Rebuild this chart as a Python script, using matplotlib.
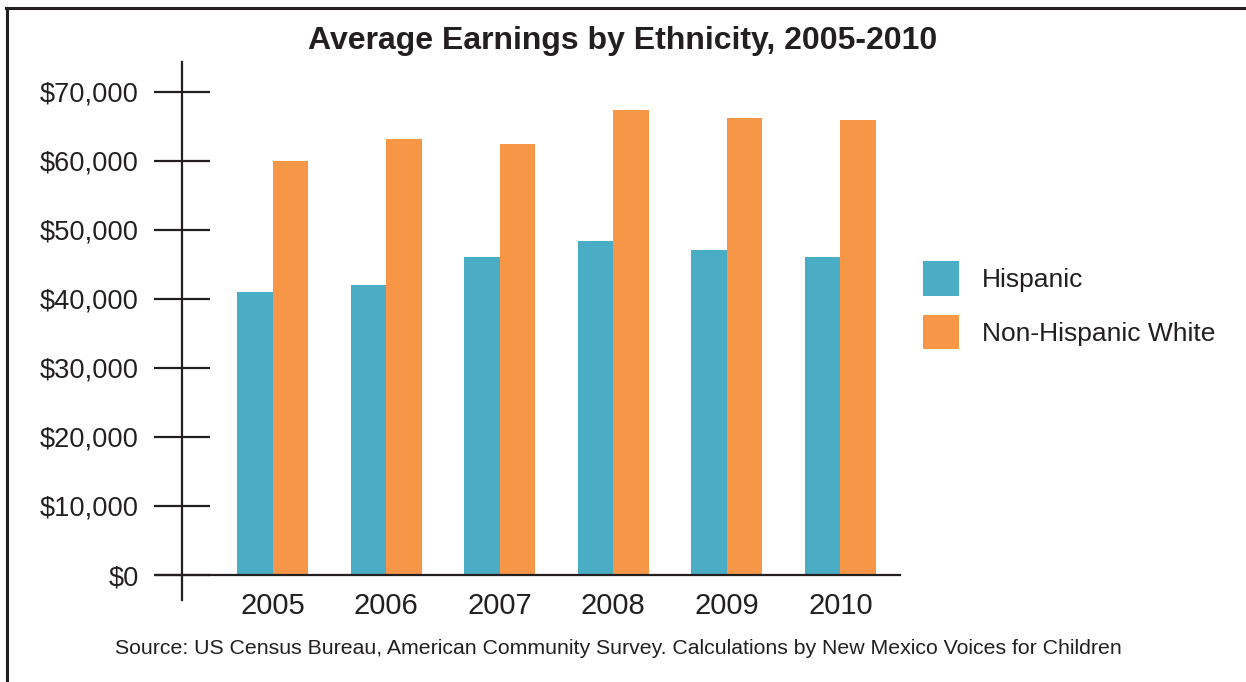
import matplotlib
matplotlib.use("Agg")
import matplotlib.pyplot as plt
from matplotlib.lines import Line2D
import numpy as np

# Data
years = ["2005", "2006", "2007", "2008", "2009", "2010"]
hispanic = [41000, 42000, 46000, 48400, 47100, 46000]
non_hispanic_white = [60000, 63100, 62400, 67300, 66200, 65900]
yticks = [0, 10000, 20000, 30000, 40000, 50000, 60000, 70000]

TEAL = "#4BACC6"
ORANGE = "#F79646"
INK = "#231F20"

plt.rcParams['font.family'] = ['Liberation Sans', 'DejaVu Sans']
plt.rcParams['text.color'] = INK

W, H = 1246, 682
fig = plt.figure(figsize=(W / 100, H / 100), dpi=100)
ax = fig.add_axes([182 / W, (H - 575) / H, (900 - 182) / W, (575 - 62) / H])

x = np.arange(len(years))
bw = 0.3125
ax.bar(x - bw / 2, hispanic, bw, color=TEAL, label="Hispanic")
ax.bar(x + bw / 2, non_hispanic_white, bw, color=ORANGE, label="Non-Hispanic White")

ax.set_xlim(-0.797, 5.524)
ax.set_ylim(0, 74300)

for s in ax.spines.values():
    s.set_visible(False)

# axis lines (y axis runs a bit below zero, x axis a bit left of the y axis)
ax.plot([0, 0], [-25 / 513, 1], transform=ax.transAxes, color=INK, lw=1.6, clip_on=False)
ax.plot([-26 / 718, 1], [0, 0], transform=ax.transAxes, color=INK, lw=1.6, clip_on=False)

ax.set_yticks(yticks)
ax.set_yticklabels(["${:,}".format(v) for v in yticks])
ax.tick_params(axis='y', direction='inout', length=40, width=1.6, color=INK,
               labelsize=19.6, labelcolor=INK, pad=11)
ax.set_xticks(x)
ax.set_xticklabels(years)
ax.tick_params(axis='x', length=0, labelsize=21, labelcolor=INK, pad=12)

fig.text(623 / W, (H - 41) / H, "Average Earnings by Ethnicity, 2005-2010",
         ha='center', va='center', fontsize=23, fontweight='bold')
fig.text(618 / W, (H - 649) / H,
         "Source: US Census Bureau, American Community Survey. Calculations by New Mexico Voices for Children",
         ha='center', va='center', fontsize=15.3)

leg = ax.legend(loc='upper left', bbox_to_anchor=(923 / W, (H - 261) / H),
                bbox_transform=fig.transFigure, frameon=False, fontsize=19,
                handlelength=1.37, handleheight=1.64, handletextpad=0.85,
                labelspacing=0.72, borderpad=0, borderaxespad=0)

# outer frame (left and top edges)
fig.add_artist(Line2D([7 / W, 7 / W], [0, (H - 8) / H], transform=fig.transFigure, color=INK, lw=2.2))
fig.add_artist(Line2D([6 / W, 1], [(H - 8) / H, (H - 8) / H], transform=fig.transFigure, color=INK, lw=2.2))

fig.savefig("out.png", dpi=100)
